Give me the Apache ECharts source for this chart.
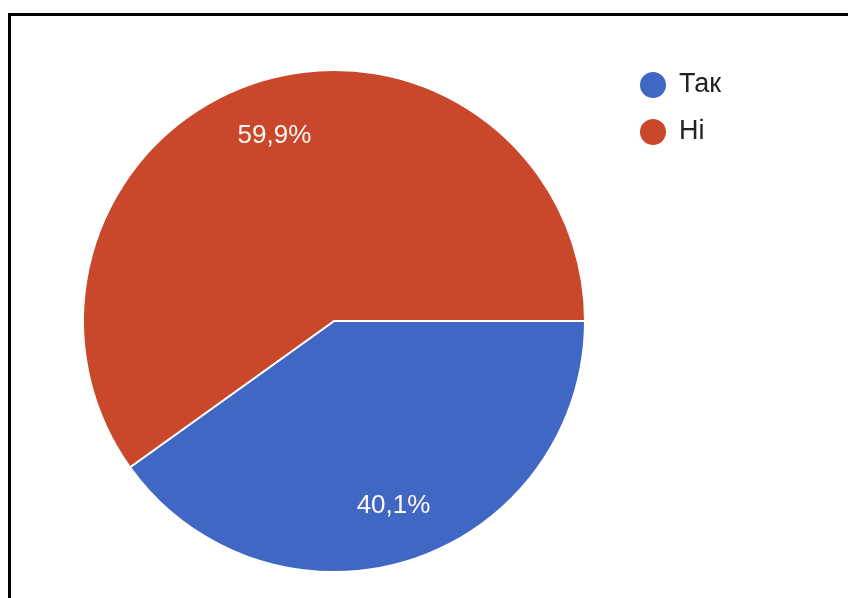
<!DOCTYPE html>
<html>
<head>
<meta charset="utf-8">
<script src="https://cdn.jsdelivr.net/npm/echarts@6/dist/echarts.min.js"></script>
<style>
  html, body { margin: 0; padding: 0; background: #fff; }
  #chart { width: 848px; height: 598px; }
</style>
</head>
<body>
<div id="chart"></div>
<script>
// Survey answers and their shares (%)
const categories = ['Так', 'Ні'];
const shares = [40.1, 59.9];
const colors = ['#4167c5', '#c9472a'];

const pieData = categories.map((name, i) => ({
  name: name,
  value: shares[i],
  itemStyle: { color: colors[i] }
}));

const center = [334, 321];
const outer = 251;
const textFont = '"Liberation Sans", Arial, sans-serif';

const chart = echarts.init(document.getElementById('chart'), null, { renderer: 'canvas' });
chart.setOption({
  animation: false,
  backgroundColor: '#ffffff',
  graphic: [{
    type: 'rect',
    shape: { x: 9.5, y: 14.5, width: 1000, height: 1000 },
    style: { fill: 'none', stroke: '#000', lineWidth: 3 },
    silent: true
  }],
  legend: {
    data: categories,
    orient: 'vertical',
    left: 633,
    top: 65,
    icon: 'circle',
    itemWidth: 28,
    itemHeight: 28,
    itemGap: 17,
    textStyle: {
      fontFamily: textFont,
      fontSize: 27,
      color: '#222',
      padding: [0, 0, 0, 7]
    }
  },
  series: [
    {
      // filled slices
      type: 'pie',
      center: center,
      radius: [0, outer],
      startAngle: 0,
      clockwise: true,
      label: { show: false },
      labelLine: { show: false },
      itemStyle: { borderColor: '#fff', borderWidth: 2 },
      emphasis: { disabled: true },
      data: pieData
    },
    {
      // transparent ring that carries the percentage labels
      type: 'pie',
      center: center,
      radius: [132, outer],
      startAngle: 0,
      clockwise: true,
      silent: true,
      itemStyle: { color: 'transparent', borderWidth: 0 },
      label: {
        show: true,
        position: 'inside',
        formatter: p => p.value.toFixed(1).replace('.', ',') + '%',
        color: '#fdf8f4',
        fontFamily: textFont,
        fontSize: 26
      },
      labelLine: { show: false },
      emphasis: { disabled: true },
      data: categories.map((name, i) => ({ name: name, value: shares[i] }))
    }
  ]
});
</script>
</body>
</html>
